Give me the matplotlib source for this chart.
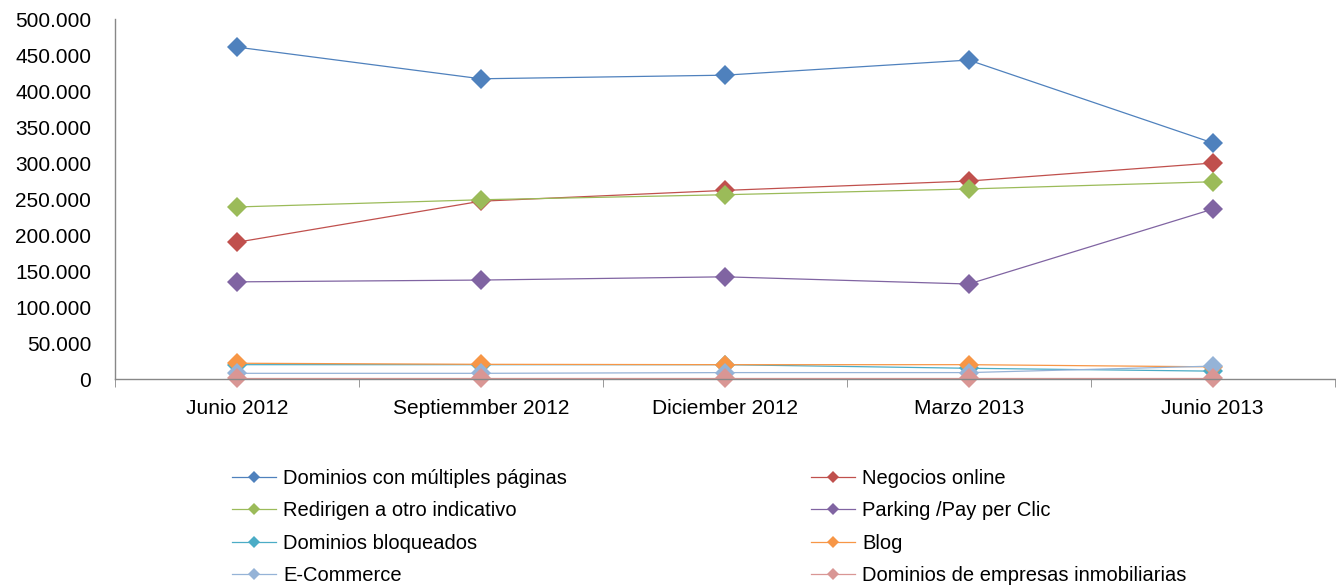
import matplotlib.pyplot as plt
from matplotlib.ticker import FuncFormatter, FixedLocator

plt.rcParams['font.family'] = ['Liberation Sans Narrow', 'Liberation Sans', 'DejaVu Sans']

# periods on the x axis
periods = ['Junio 2012', 'Septiemmber 2012', 'Diciember 2012', 'Marzo 2013', 'Junio 2013']

# series values (number of domains)
multiples = [461000, 417000, 422000, 443000, 328000]
negocios = [190000, 247000, 262000, 275000, 300000]
redirigen = [239000, 249000, 256000, 264000, 274000]
parking = [135000, 137500, 142000, 132000, 236000]
bloqueados = [20000, 20000, 20000, 15000, 11000]
blog = [22000, 20500, 20000, 20000, 17000]
ecommerce = [8000, 8000, 9000, 9000, 18000]
inmobiliarias = [1000, 1000, 1000, 1000, 1000]

names = ['Dominios con múltiples páginas', 'Negocios online',
         'Redirigen a otro indicativo', 'Parking /Pay per Clic',
         'Dominios bloqueados', 'Blog', 'E-Commerce',
         'Dominios de empresas inmobiliarias']
series = [multiples, negocios, redirigen, parking, bloqueados, blog, ecommerce, inmobiliarias]
colors = ['#4F81BD', '#C0504D', '#9BBB59', '#8064A2', '#4BACC6', '#F79646', '#95B3D7', '#D99694']

fig = plt.figure(figsize=(13.36, 5.85), dpi=100)
ax = fig.add_axes([0.086, 0.352, 0.913, 0.6155])

x = list(range(len(periods)))
handles = []
for vals, name, col in zip(series, names, colors):
    ax.plot(x, vals, color=col, lw=0.9, marker='D', markersize=10.5,
            markeredgewidth=0, clip_on=False)
    # smaller marker for the legend entry
    h, = ax.plot([], [], color=col, lw=0.9, marker='D', markersize=6, markeredgewidth=0, label=name)
    handles.append(h)

ax.set_xlim(-0.5, 4.5)
ax.set_ylim(0, 500000)
ax.set_xticks(x)
ax.set_xticklabels(periods, fontsize=15)
ax.xaxis.set_minor_locator(FixedLocator([-0.5, 0.5, 1.5, 2.5, 3.5, 4.5]))
ax.tick_params(axis='x', which='major', length=0, pad=14)
ax.tick_params(axis='x', which='minor', length=6, color='#888888', direction='out')
ax.set_yticks(range(0, 500001, 50000))
ax.yaxis.set_major_formatter(FuncFormatter(lambda v, p: '0' if v == 0 else f'{int(v):,}'.replace(',', '.')))
ax.tick_params(axis='y', length=0, labelsize=15, pad=17)

for s in ['top', 'right']:
    ax.spines[s].set_visible(False)
for s in ['left', 'bottom']:
    ax.spines[s].set_color('#888888')
    ax.spines[s].set_linewidth(1)

order = [0, 2, 4, 6, 1, 3, 5, 7]
fig.legend([handles[i] for i in order], [names[i] for i in order],
           ncol=2, loc='upper left', bbox_to_anchor=(0.1735, 0.198),
           frameon=False, fontsize=14.5, handlelength=2.2, handletextpad=0.35,
           columnspacing=12.1, labelspacing=0.66, borderaxespad=0, borderpad=0)

fig.savefig('out.png', dpi=100)
